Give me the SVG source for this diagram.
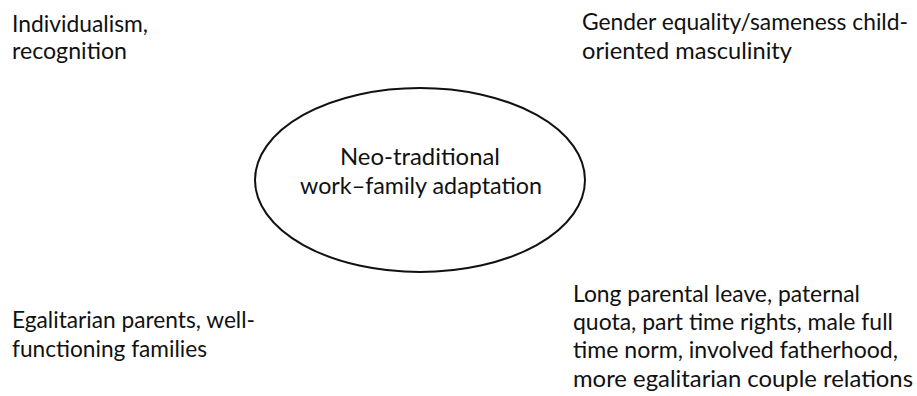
<svg xmlns="http://www.w3.org/2000/svg" width="917" height="396" viewBox="0 0 917 396">
<style>
text{font-family:Lato,"Open Sans","Liberation Sans",sans-serif;font-size:23px;fill:#111;}
.c{text-anchor:middle;}
ellipse{fill:none;stroke:#111;stroke-width:2;}
</style>
<rect width="917" height="396" fill="#fff"/>
<g id="node-individualism">
<text x="12" y="32" textLength="136" lengthAdjust="spacingAndGlyphs">Individualism,</text>
<text x="12" y="59" textLength="115" lengthAdjust="spacingAndGlyphs">recognition</text>
</g>
<g id="node-gender">
<text x="582" y="30" textLength="326" lengthAdjust="spacingAndGlyphs">Gender equality/sameness child-</text>
<text x="582" y="59" textLength="210" lengthAdjust="spacingAndGlyphs">oriented masculinity</text>
</g>
<g id="node-center">
<ellipse cx="420" cy="180" rx="165" ry="92"/>
<text class="c" x="420" y="165" textLength="160" lengthAdjust="spacingAndGlyphs">Neo-traditional</text>
<text class="c" x="421" y="194" textLength="242" lengthAdjust="spacingAndGlyphs">work–family adaptation</text>
</g>
<g id="node-egalitarian">
<text x="12" y="328" textLength="243" lengthAdjust="spacingAndGlyphs">Egalitarian parents, well-</text>
<text x="12" y="357" textLength="195" lengthAdjust="spacingAndGlyphs">functioning families</text>
</g>
<g id="node-policy">
<text x="573" y="302" textLength="287" lengthAdjust="spacingAndGlyphs">Long parental leave, paternal</text>
<text x="573" y="330" textLength="320" lengthAdjust="spacingAndGlyphs">quota, part time rights, male full</text>
<text x="573" y="358" textLength="325" lengthAdjust="spacingAndGlyphs">time norm, involved fatherhood,</text>
<text x="573" y="387" textLength="340" lengthAdjust="spacingAndGlyphs">more egalitarian couple relations</text>
</g>
<g id="connectors"></g>
</svg>
